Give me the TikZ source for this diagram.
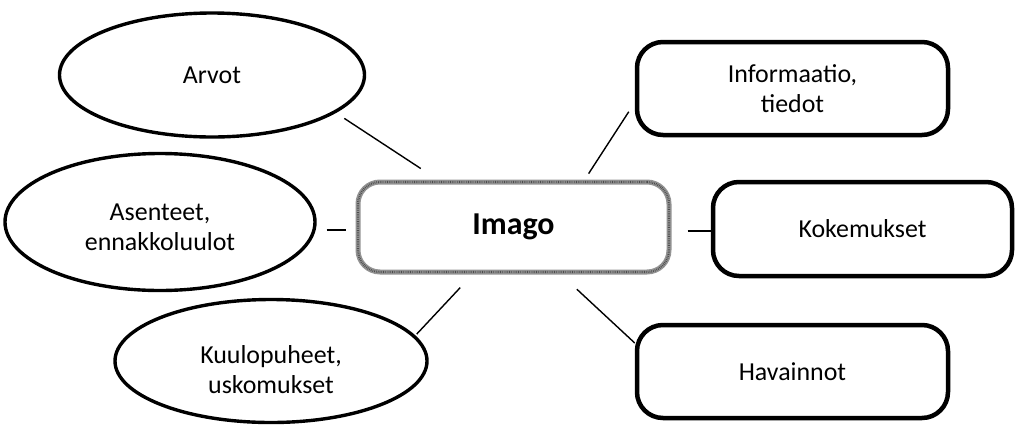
\documentclass[tikz,border=0pt]{standalone}
\usepackage{fontspec}
\setmainfont{Carlito}
\usetikzlibrary{shapes.geometric,calc}
\begin{document}
\begin{tikzpicture}[x=1bp,y=-1bp,
  labeltext/.style={inner sep=0pt, align=center, font=\fontsize{26}{30}\selectfont},
  oval/.style={ellipse, draw=black, line width=3.4bp, inner sep=0pt},
  card/.style={rectangle, rounded corners=26bp, draw=black, line width=4.5bp,
    labeltext},
  hub/.style={rectangle, rounded corners=22bp, draw=black!42, line width=5bp,
    postaction={draw=black!70, line width=2.2bp, dash pattern=on 0.7bp off 1.1bp},
    inner sep=0pt, align=center, font=\bfseries\fontsize{32}{36}\selectfont},
  link/.style={line width=1.4bp}]
\useasboundingbox (0,0) rectangle (1016,426);

% centre
\node[hub, minimum width=311bp, minimum height=90bp] (imago) at (513.5,227) {Imago};

% left side: ellipses with their texts
\node[oval, minimum width=305bp, minimum height=124bp] (arvot) at (212,75) {};
\node[labeltext] (arvot-t) at (arvot.center) {Arvot};
\node[oval, minimum width=310bp, minimum height=137bp] (asenteet) at (160,222) {};
\node[labeltext] (asenteet-t) at ([yshift=-5bp]asenteet.center) {Asenteet,\\ennakkoluulot};
\node[oval, minimum width=312bp, minimum height=123bp] (kuulo) at (271,361) {};
\node[labeltext] (kuulo-t) at ([yshift=-9bp]kuulo.center) {Kuulopuheet,\\uskomukset};

% right side: rounded boxes
\node[card, minimum width=311bp, minimum height=93bp] (info) at (792.5,88.5) {Informaatio,\\tiedot};
\node[card, minimum width=299bp, minimum height=94bp] (koke) at (862.5,229) {Kokemukset};
\node[card, minimum width=311bp, minimum height=93bp] (hav) at (792.5,371.5) {Havainnot};

% connectors
\draw[link, shorten <=10bp, shorten >=20bp] (arvot.-17) -- ($(imago.north west)+(82,0)$);
\draw[link, shorten <=10bp, shorten >=10bp] ([yshift=-8bp]asenteet.east) -- ([yshift=-8bp]asenteet.east -| imago.west);
\draw[link, shorten <=2bp, shorten >=18bp] (kuulo.10.7) -- ($(imago.south west)+(117,0)$);
\draw[link, shorten <=7bp, shorten >=11bp] ($(imago.north west)+(229.3,0)$) -- ([yshift=-14bp]info.west);
\draw[link, shorten <=16bp] ([yshift=-4bp]imago.east) -- ([yshift=-4bp]imago.east -| koke.west);
\draw[link, shorten <=21.6bp] ($(imago.south west)+(205.5,0)$) -- ([yshift=28.5bp]hav.west);
\end{tikzpicture}
\end{document}
